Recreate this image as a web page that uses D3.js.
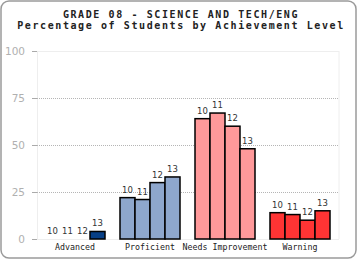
<!DOCTYPE html>
<html>
<head>
<meta charset="utf-8">
<script src="https://cdn.jsdelivr.net/npm/d3@7"></script>
<style>
  body { margin: 0; background: #fff; }
  svg { display: block; }
</style>
</head>
<body>
<div id="chart"></div>
<script>
const levels = ["Advanced", "Proficient", "Needs Improvement", "Warning"];
const years = ["10", "11", "12", "13"];
const advanced = [0, 0, 0, 4];
const proficient = [22, 21, 30, 33];
const needsImprovement = [64, 67, 60, 48];
const warning = [14, 13, 10, 15];
const levelColors = ["#073f86", "#8ea7cd", "#ff999a", "#ff3434"];
const yTicks = [0, 25, 50, 75, 100];

const width = 360, height = 260;
const margin = { top: 51, right: 22, bottom: 21, left: 37 };

const svg = d3.select("#chart")
  .append("svg")
  .attr("width", width)
  .attr("height", height);

// outer frame
svg.append("rect")
  .attr("x", 1).attr("y", 1)
  .attr("width", 355).attr("height", 257)
  .attr("rx", 8)
  .attr("fill", "#fff")
  .attr("stroke", "#9a9a9a")
  .attr("stroke-width", 1.5);

// title
const title = svg.append("text")
  .attr("text-anchor", "middle")
  .attr("font-family", "'DejaVu Sans Mono', monospace")
  .attr("font-size", 10)
  .attr("letter-spacing", 1.6)
  .attr("font-weight", "bold")
  .attr("fill", "#222");
title.append("tspan").attr("x", 181).attr("y", 18).text("GRADE 08 - SCIENCE AND TECH/ENG");
title.append("tspan").attr("x", 181).attr("y", 28.5).text("Percentage of Students by Achievement Level");

const x = d3.scaleBand()
  .domain(levels)
  .range([margin.left + 0.5, margin.left + 300.5])
  .paddingInner(0.2)
  .paddingOuter(0.1);

const xInner = d3.scaleBand()
  .domain(years)
  .range([0, x.bandwidth()]);

const y = d3.scaleLinear()
  .domain([0, 100])
  .range([height - margin.bottom, margin.top]);

const plotRight = width - margin.right + 1;

// plot frame lines
svg.append("line")
  .attr("x1", margin.left + 0.5).attr("x2", margin.left + 0.5)
  .attr("y1", y(100)).attr("y2", y(0))
  .attr("stroke", "#eee");
svg.append("line")
  .attr("x1", plotRight).attr("x2", plotRight)
  .attr("y1", y(100)).attr("y2", y(0))
  .attr("stroke", "#eee");
svg.append("line")
  .attr("x1", margin.left).attr("x2", plotRight)
  .attr("y1", y(100) + 0.5).attr("y2", y(100) + 0.5)
  .attr("stroke", "#eee");

// gridlines
svg.selectAll("line.grid")
  .data([25, 50, 75])
  .enter()
  .append("line")
  .attr("class", "grid")
  .attr("x1", margin.left).attr("x2", plotRight)
  .attr("y1", d => Math.round(y(d)) + 0.5)
  .attr("y2", d => Math.round(y(d)) + 0.5)
  .attr("stroke", "#b5b5b5")
  .attr("stroke-dasharray", "1,1");

// y axis
const yAxis = svg.append("g")
  .attr("transform", `translate(${margin.left},0)`)
  .call(d3.axisLeft(y).tickValues(yTicks).tickSize(5).tickPadding(7));
yAxis.select(".domain").remove();
yAxis.selectAll(".tick line").attr("stroke", "#aaa");
yAxis.selectAll(".tick text")
  .attr("fill", "#b0b0b0")
  .attr("font-family", "'DejaVu Sans', Verdana, sans-serif")
  .attr("font-size", 10.5);

// baseline
svg.append("line")
  .attr("x1", margin.left).attr("x2", plotRight)
  .attr("y1", y(0) + 0.5).attr("y2", y(0) + 0.5)
  .attr("stroke", "#eee");

const series = [advanced, proficient, needsImprovement, warning];

levels.forEach((level, li) => {
  const g = svg.append("g")
    .attr("transform", `translate(${x(level)},0)`);
  const rows = years.map((yr, i) => ({ yr, v: series[li][i] }));

  g.selectAll("rect")
    .data(rows.filter(d => d.v > 0))
    .enter()
    .append("rect")
    .attr("x", d => xInner(d.yr))
    .attr("y", d => y(d.v))
    .attr("width", xInner.bandwidth())
    .attr("height", d => y(0) - y(d.v))
    .attr("fill", levelColors[li])
    .attr("stroke", "#000")
    .attr("stroke-width", 1.5);

  g.selectAll("text")
    .data(rows)
    .enter()
    .append("text")
    .attr("x", d => xInner(d.yr) + xInner.bandwidth() / 2)
    .attr("y", d => y(d.v) - 5)
    .attr("text-anchor", "middle")
    .attr("font-family", "'DejaVu Sans', Verdana, sans-serif")
    .attr("font-size", 8.5)
    .attr("fill", "#333")
    .text(d => d.yr);

  svg.append("text")
    .attr("x", x(level) + x.bandwidth() / 2)
    .attr("y", 250)
    .attr("text-anchor", "middle")
    .attr("font-family", "'DejaVu Sans Mono', monospace")
    .attr("font-size", 8.3)
    .attr("fill", "#222")
    .text(level);
});
</script>
</body>
</html>
